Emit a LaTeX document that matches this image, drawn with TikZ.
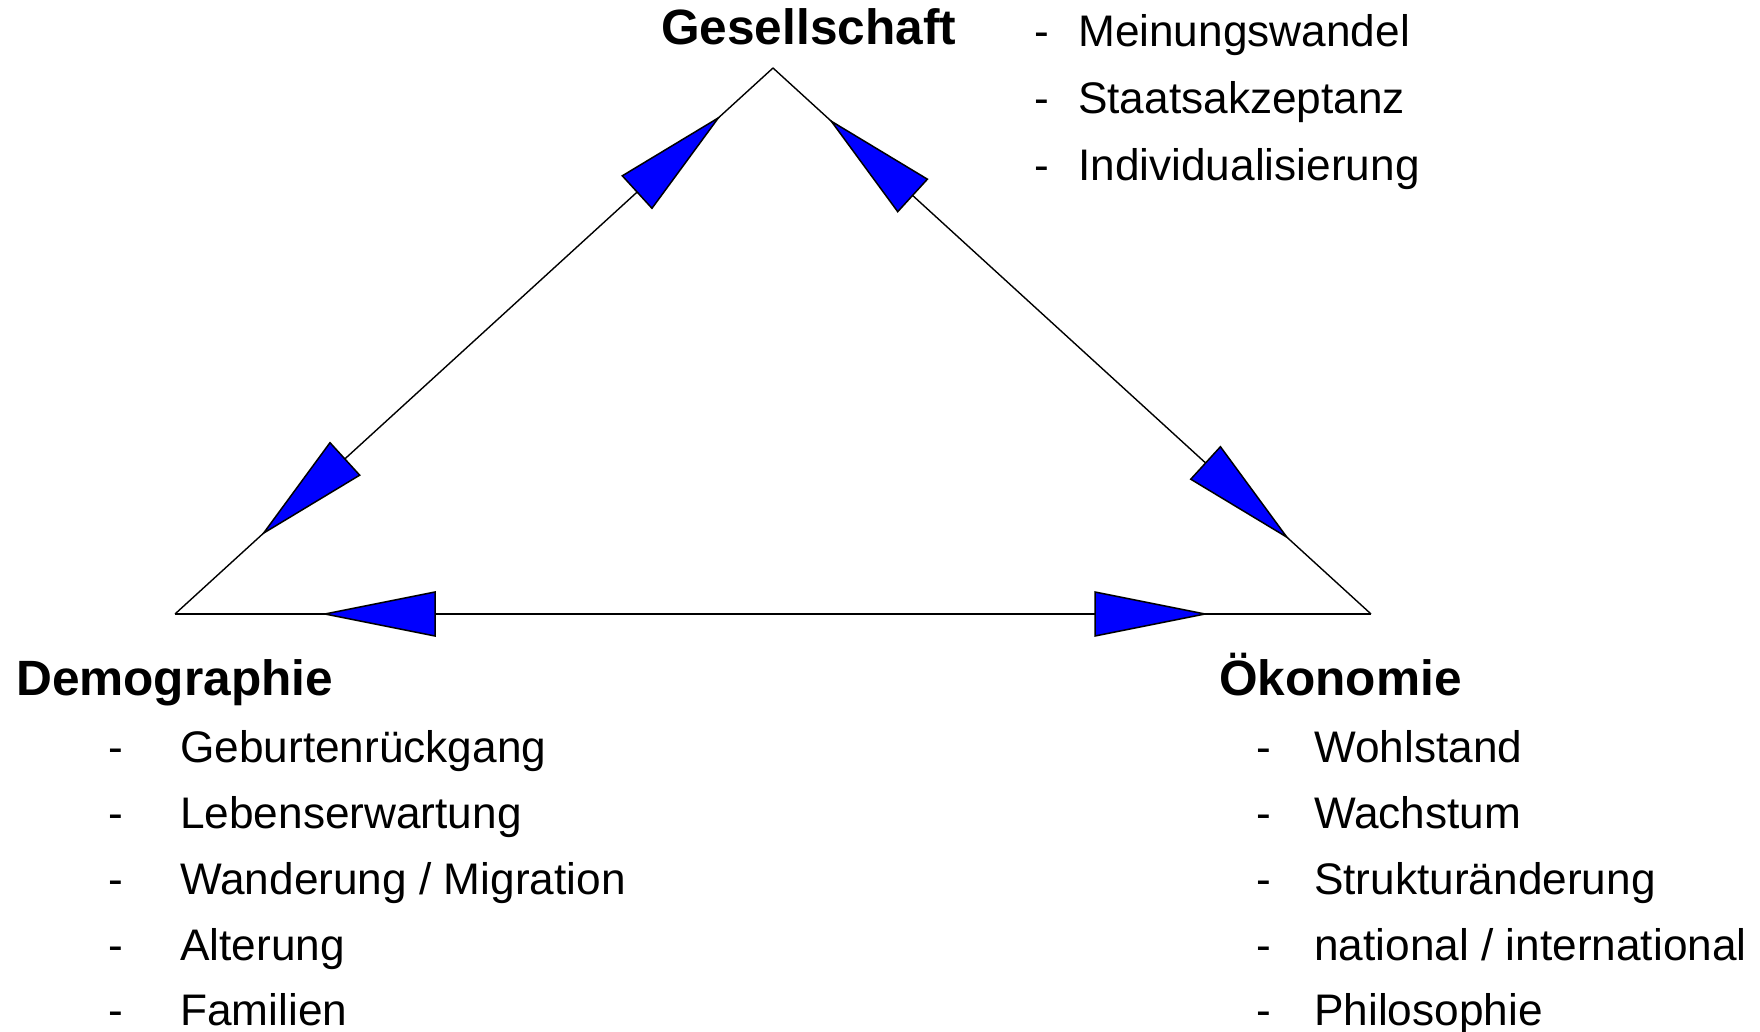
\documentclass[tikz,border=0pt]{standalone}
\usepackage{fontspec}
\setmainfont{Liberation Sans}
\usetikzlibrary{calc}
\tikzset{
  edge/.style={draw=black, line width=1.4pt},
  headstyle/.style={fill=blue, draw=black, line width=1.5pt, line join=miter},
  title/.style={anchor=base west, inner sep=0pt, font=\fontsize{49.6}{56}\selectfont\bfseries},
  item/.style={anchor=base west, inner sep=0pt, font=\fontsize{44.2}{52}\selectfont},
}
\newcommand{\headon}[3]{%
  \coordinate (tp) at ($(#2)!#3!(#1)$);
  \coordinate (bc) at ($(tp)!110pt!(#1)$);
  \filldraw[headstyle] (tp) -- ($(bc)!22pt!90:(tp)$) -- ($(bc)!22pt!-90:(tp)$) -- cycle;
}
\begin{document}
\begin{tikzpicture}[x=1pt,y=-1pt]
\useasboundingbox (0,0) rectangle (1760,1032);
% vertices
\coordinate (G) at (773,68);
\coordinate (D) at (175,614);
\coordinate (O) at (1371,614);
% triangle edges
\draw[edge] (D) -- (G);
\draw[edge] (G) -- (O);
\draw[edge] (D) -- (O);
% arrowheads
\headon{D}{G}{74pt}
\headon{G}{D}{120pt}
\headon{O}{G}{79pt}
\headon{G}{O}{114pt}
\headon{O}{D}{150pt}
\headon{D}{O}{166pt}
% titles
\node[title] (tG) at (661,45) {Gesellschaft};
\node[title] (tD) at (16,695) {Demographie};
\node[title] (tO) at (1219,695) {Ökonomie};
% Gesellschaft items
\node[item] (gd1) at (1034,47) {-};
\node[item] (gi1) at (1078,47) {Meinungswandel};
\node[item] (gd2) at (1034,114) {-};
\node[item] (gi2) at (1078,114) {Staatsakzeptanz};
\node[item] (gd3) at (1034,181) {-};
\node[item] (gi3) at (1078,181) {Individualisierung};
% Demographie items
\node[item] (dd1) at (108,762) {-};
\node[item] (di1) at (180,762) {Geburtenrückgang};
\node[item] (dd2) at (108,828) {-};
\node[item] (di2) at (180,828) {Lebenserwartung};
\node[item] (dd3) at (108,894) {-};
\node[item] (di3) at (180,894) {Wanderung / Migration};
\node[item] (dd4) at (108,960) {-};
\node[item] (di4) at (180,960) {Alterung};
\node[item] (dd5) at (108,1025) {-};
\node[item] (di5) at (180,1025) {Familien};
% Oekonomie items
\node[item] (od1) at (1256,762) {-};
\node[item] (oi1) at (1314,762) {Wohlstand};
\node[item] (od2) at (1256,828) {-};
\node[item] (oi2) at (1314,828) {Wachstum};
\node[item] (od3) at (1256,894) {-};
\node[item] (oi3) at (1314,894) {Strukturänderung};
\node[item] (od4) at (1256,960) {-};
\node[item] (oi4) at (1314,960) {national / international};
\node[item] (od5) at (1256,1025) {-};
\node[item] (oi5) at (1314,1025) {Philosophie};
\end{tikzpicture}
\end{document}
